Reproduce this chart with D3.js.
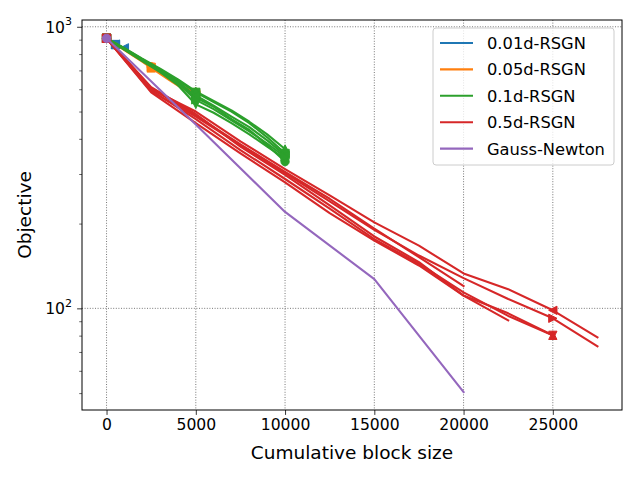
<!DOCTYPE html>
<html>
<head>
<meta charset="utf-8">
<script src="https://cdn.jsdelivr.net/npm/d3@7"></script>
<style>
  body { margin: 0; background: #fff; }
  text { font-family: "DejaVu Sans", sans-serif; fill: #000; }
</style>
</head>
<body>
<div id="chart"></div>
<script>
var svgWidth = 640;
var svgHeight = 480;

var margin = { top: 20, right: 18, bottom: 70, left: 82 };
var width = svgWidth - margin.left - margin.right;
var height = svgHeight - margin.top - margin.bottom;

// data
var methods = ["0.01d-RSGN", "0.05d-RSGN", "0.1d-RSGN", "0.5d-RSGN", "Gauss-Newton"];
var colors = ["#1f77b4", "#ff7f0e", "#2ca02c", "#d62728", "#9467bd"];
var markEvery = [500, 2500, 5000, 25000, 1000000];
var markerShapes = ["o", "s", "^", "v", "<", ">"];

var xTicks = [0, 5000, 10000, 15000, 20000, 25000];
var yMajor = [100, 1000];
var yMinor = [50, 60, 70, 80, 90, 200, 300, 400, 500, 600, 700, 800, 900];

var rsgn001X = [0, 250, 500, 750, 1000];
var rsgn001Runs = [
  [910, 886, 862],
  [910, 887, 864, 850],
  [910, 889, 866, 852],
  [910, 888, 865],
  [910, 890, 868, 855, 842]
];

var rsgn005X = [0, 500, 1000, 1500, 2000, 2500, 3000, 3500, 4000, 4500, 5000];
var rsgn005Runs = [
  [910, 872, 834, 796, 760, 722, 690, 658, 628, 605, 585],
  [910, 870, 830, 792, 756, 718, 686, 654, 624, 600, 578],
  [910, 868, 826, 788, 752, 714, 680, 648, 618, 594, 570]
];

var rsgn01X = [0, 1000, 2000, 3000, 4000, 5000, 6000, 7000, 8000, 9000, 10000];
var rsgn01Runs = [
  [910, 830, 760, 700, 640, 560, 520, 470, 430, 380, 332],
  [910, 835, 765, 705, 645, 585, 540, 500, 455, 405, 355],
  [910, 840, 770, 710, 650, 590, 545, 505, 460, 415, 368],
  [910, 830, 755, 690, 620, 530, 495, 455, 415, 375, 340],
  [910, 838, 768, 700, 635, 570, 525, 480, 440, 395, 350],
  [910, 835, 760, 695, 630, 550, 510, 465, 425, 385, 345]
];

var rsgn05X = [0, 2500, 5000, 7500, 10000, 12500, 15000, 17500, 20000, 22500, 25000, 27500];
var rsgn05Runs = [
  [910, 585, 455, 355, 280, 218, 174, 142, 111, 90.7],
  [910, 605, 485, 382, 305, 245, 192, 152, 120],
  [910, 610, 490, 375, 298, 232, 180, 146, 111, 96, 80.2],
  [910, 595, 470, 365, 288, 226, 176, 144, 114, 94, 80.2],
  [910, 600, 500, 392, 312, 252, 202, 167, 133, 117, 98.4, 78.9],
  [910, 590, 480, 380, 302, 240, 190, 154, 128, 108, 92.2, 73.3]
];

var gnX = [0, 5000, 10000, 15000, 20000];
var gnRuns = [
  [910, 450, 220, 127, 50.4]
];

var groups = [
  { x: rsgn001X, runs: rsgn001Runs },
  { x: rsgn005X, runs: rsgn005Runs },
  { x: rsgn01X, runs: rsgn01Runs },
  { x: rsgn05X, runs: rsgn05Runs },
  { x: gnX, runs: gnRuns }
];

var svg = d3.select("#chart")
  .append("svg")
  .attr("width", svgWidth)
  .attr("height", svgHeight);

svg.append("rect").attr("width", svgWidth).attr("height", svgHeight).attr("fill", "#fff");

var chartGroup = svg.append("g")
  .attr("transform", `translate(${margin.left}, ${margin.top})`);

var xScale = d3.scaleLinear().domain([-1375, 28875]).range([0, width]);
var yScale = d3.scaleLog().domain([43.55, 1057]).range([height, 0]);

// grid
chartGroup.selectAll(".xgrid")
  .data(xTicks).enter().append("line")
  .attr("x1", d => xScale(d)).attr("x2", d => xScale(d))
  .attr("y1", 0).attr("y2", height)
  .attr("stroke", "#555").attr("stroke-width", 0.8).attr("stroke-dasharray", "1,1.6");

chartGroup.selectAll(".ygrid")
  .data(yMajor).enter().append("line")
  .attr("x1", 0).attr("x2", width)
  .attr("y1", d => yScale(d)).attr("y2", d => yScale(d))
  .attr("stroke", "#555").attr("stroke-width", 0.8).attr("stroke-dasharray", "1,1.6");

// axes
var bottomAxis = d3.axisBottom(xScale).tickValues(xTicks).tickSize(4.9).tickPadding(4).tickFormat(d3.format("d"));
var xAxisG = chartGroup.append("g")
  .attr("transform", `translate(0, ${height})`)
  .call(bottomAxis);
xAxisG.select(".domain").remove();
xAxisG.selectAll("line").attr("stroke", "#000").attr("stroke-width", 0.8);
xAxisG.selectAll("text").attr("font-size", 15.6).attr("font-family", "DejaVu Sans").attr("fill", "#000");

var leftMinor = d3.axisLeft(yScale).tickValues(yMinor).tickSize(2.8).tickFormat("");
var yMinorG = chartGroup.append("g").call(leftMinor);
yMinorG.select(".domain").remove();
yMinorG.selectAll("line").attr("stroke", "#000").attr("stroke-width", 0.6);

var leftAxis = d3.axisLeft(yScale).tickValues(yMajor).tickSize(4.9).tickFormat("");
var yAxisG = chartGroup.append("g").call(leftAxis);
yAxisG.select(".domain").remove();
yAxisG.selectAll("line").attr("stroke", "#000").attr("stroke-width", 0.8);

var yLabels = chartGroup.selectAll(".ylab")
  .data(yMajor).enter().append("text")
  .attr("x", -10)
  .attr("y", d => yScale(d) + 5.8)
  .attr("text-anchor", "end")
  .attr("font-size", 15.6);
yLabels.append("tspan").text("10");
yLabels.append("tspan").attr("dy", -7.5).attr("font-size", 11).text(d => Math.round(Math.log10(d)));

// lines
var line = d3.line()
  .x(d => xScale(d[0]))
  .y(d => yScale(d[1]));

function markerPath(shape, s) {
  var h = s / 2;
  if (shape === "^") return `M0,${-h}L${-h},${h}L${h},${h}Z`;
  if (shape === "v") return `M0,${h}L${-h},${-h}L${h},${-h}Z`;
  if (shape === "<") return `M${-h},0L${h},${-h}L${h},${h}Z`;
  if (shape === ">") return `M${h},0L${-h},${-h}L${-h},${h}Z`;
  if (shape === "s") return `M${-h},${-h}H${h}V${h}H${-h}Z`;
  return d3.symbol().type(d3.symbolCircle).size(Math.PI * h * h)();
}

groups.forEach(function(g, gi) {
  g.runs.forEach(function(run, ri) {
    var pts = run.map((v, i) => [g.x[i], v]);
    chartGroup.append("path")
      .datum(pts)
      .attr("d", line)
      .attr("fill", "none")
      .attr("stroke", colors[gi])
      .attr("stroke-width", 2.1)
      .attr("stroke-linejoin", "round")
      .attr("stroke-linecap", "square");

    var shape = gi === 4 ? "o" : markerShapes[ri % markerShapes.length];
    chartGroup.selectAll(null)
      .data(pts.filter(p => p[0] % markEvery[gi] === 0))
      .enter().append("path")
      .attr("transform", p => `translate(${xScale(p[0])}, ${yScale(p[1])})`)
      .attr("d", markerPath(shape, 8.3))
      .attr("fill", colors[gi])
      .attr("stroke", colors[gi])
      .attr("stroke-width", 1);
  });
});

// frame
chartGroup.append("rect")
  .attr("width", width).attr("height", height)
  .attr("fill", "none").attr("stroke", "#000").attr("stroke-width", 1);

// labels
chartGroup.append("text")
  .attr("x", width / 2)
  .attr("y", height + 49)
  .attr("text-anchor", "middle")
  .attr("font-size", 18.5)
  .text("Cumulative block size");

chartGroup.append("text")
  .attr("transform", "rotate(-90)")
  .attr("x", -height / 2)
  .attr("y", -51)
  .attr("text-anchor", "middle")
  .attr("font-size", 18.5)
  .text("Objective");

// legend
var legend = svg.append("g").attr("transform", "translate(433, 28)");
legend.append("rect")
  .attr("width", 181).attr("height", 137)
  .attr("rx", 3)
  .attr("fill", "#fff").attr("fill-opacity", 0.8)
  .attr("stroke", "#ccc").attr("stroke-width", 1);

methods.forEach(function(m, i) {
  var y = 15 + i * 26.4;
  legend.append("line")
    .attr("x1", 7).attr("x2", 40)
    .attr("y1", y).attr("y2", y)
    .attr("stroke", colors[i]).attr("stroke-width", 2.1);
  legend.append("text")
    .attr("x", 54).attr("y", y + 6)
    .attr("font-size", 16.3)
    .text(m);
});
</script>
</body>
</html>
